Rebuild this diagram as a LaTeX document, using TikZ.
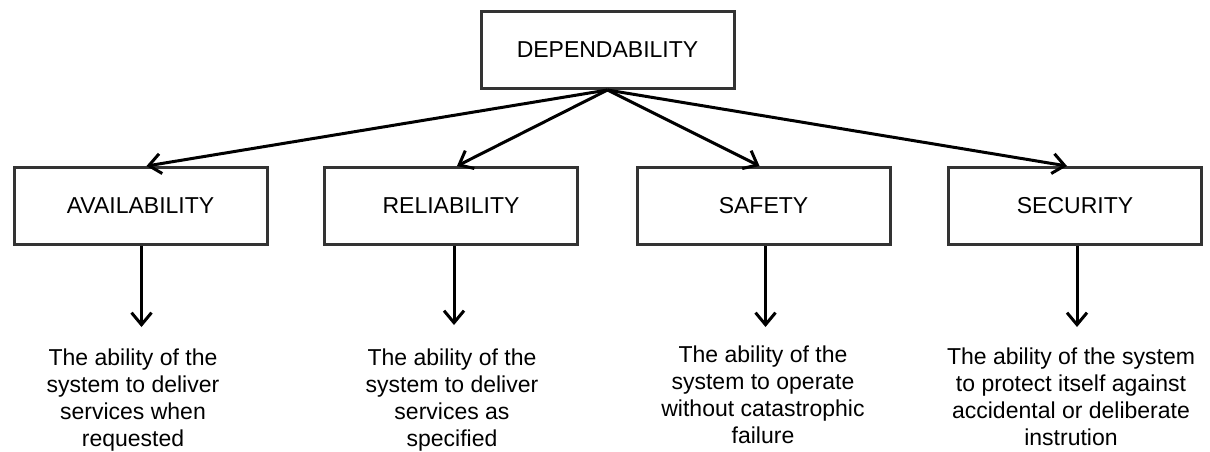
\documentclass[tikz,border=0pt]{standalone}
\usepackage{fontspec}
\setmainfont{Liberation Sans}
\usetikzlibrary{arrows.meta}
\begin{document}
\begin{tikzpicture}[x=1pt,y=-1pt,
  box/.style={draw=black!80,line width=3pt,minimum width=253pt,minimum height=77pt,inner sep=0pt,font=\fontsize{23}{27}\selectfont},
  desc/.style={anchor=north,align=center,inner sep=0pt,font=\fontsize{23}{27}\selectfont},
  arr/.style={line width=3pt,-{Straight Barb[length=12pt,width=20pt]}}]
\useasboundingbox (0,0) rectangle (1210,451);
\node[box] (dep) at (607.5,50) {DEPENDABILITY};
\node[box] (av) at (140.5,206) {AVAILABILITY};
\node[box] (re) at (451,206) {RELIABILITY};
\node[box] (sa) at (763.5,206) {SAFETY};
\node[box] (se) at (1075,206) {SECURITY};
\node[desc] (tav) at (133,349) {The ability of the\\system to deliver\\services when\\requested};
\node[desc] (tre) at (452,349) {The ability of the\\system to deliver\\services as\\specified};
\node[desc] (tsa) at (763,346) {The ability of the\\system to operate\\without catastrophic\\failure};
\node[desc] (tse) at (1071,348) {The ability of the system\\to protect itself against\\accidental or deliberate\\instrution};
\draw[arr] (dep.south) -- ([xshift=6pt]av.north);
\draw[arr] (dep.south) -- ([xshift=6pt]re.north);
\draw[arr] (dep.south) -- ([xshift=-4pt]sa.north);
\draw[arr] (dep.south) -- ([xshift=-8pt]se.north);
\draw[arr] ([xshift=1pt]av.south) -- ([xshift=1pt,yshift=22pt]tav.north -| av.south);
\draw[arr] ([xshift=3pt]re.south) -- ([xshift=3pt,yshift=24pt]tre.north -| re.south);
\draw[arr] ([xshift=2pt]sa.south) -- ([xshift=2pt,yshift=19pt]tsa.north -| sa.south);
\draw[arr] ([xshift=2pt]se.south) -- ([xshift=2pt,yshift=21pt]tse.north -| se.south);
\end{tikzpicture}
\end{document}
